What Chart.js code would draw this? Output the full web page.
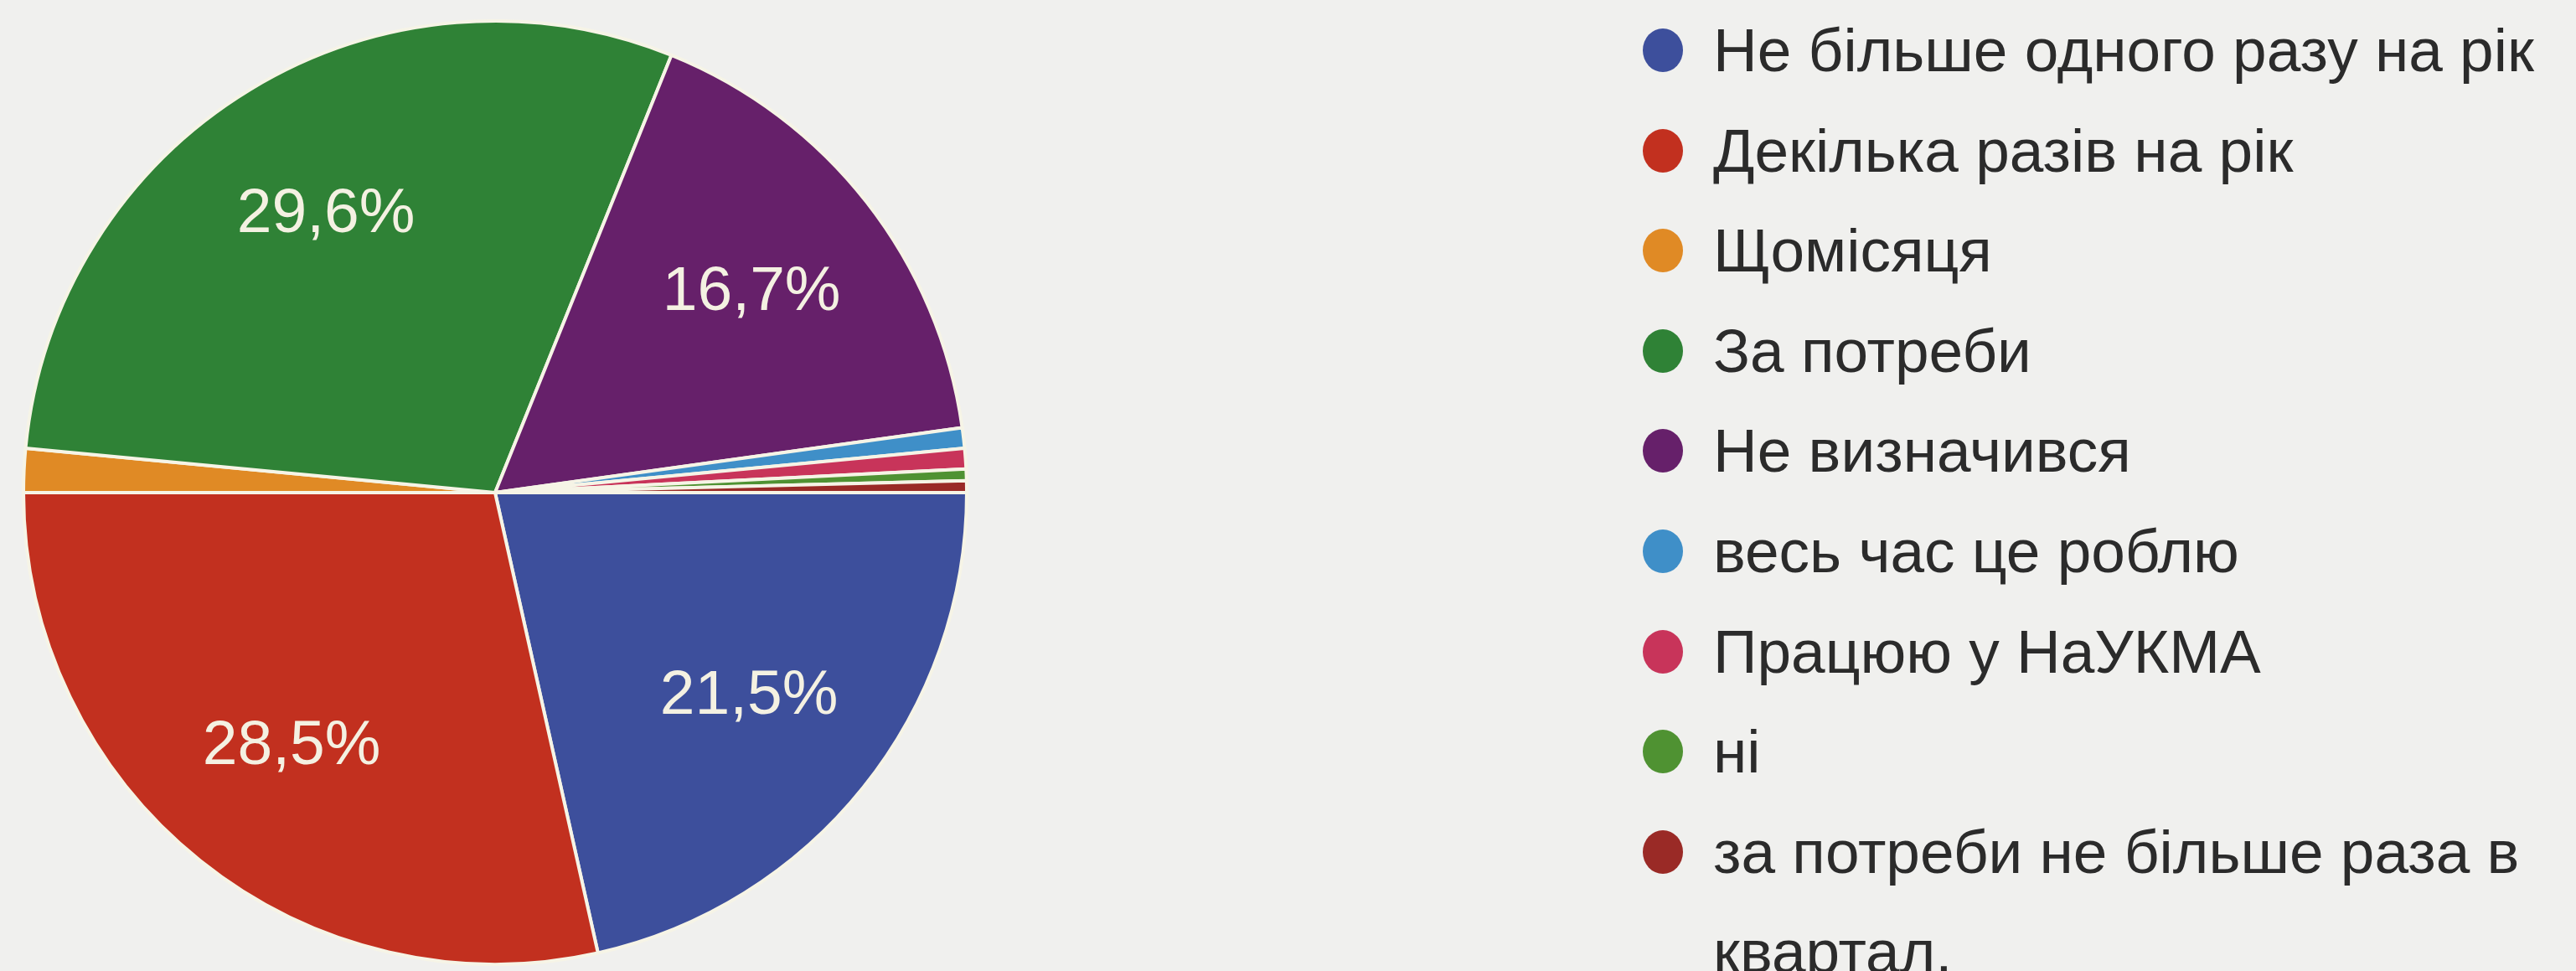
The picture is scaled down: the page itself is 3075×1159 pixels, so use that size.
<!DOCTYPE html>
<html lang="uk">
<head>
<meta charset="utf-8">
<title>Як часто</title>
<script src="https://cdn.jsdelivr.net/npm/chart.js@4.4.1/dist/chart.umd.min.js"></script>
<style>
  html, body { margin: 0; padding: 0; }
  body {
    width: 3075px; height: 1159px; overflow: hidden;
    background: #f0f0ee;
    font-family: "Liberation Sans", Arial, sans-serif;
    position: relative;
  }
  #pieBox { position: absolute; left: 26px; top: 23px; width: 1130px; height: 1130px; }
  #legend { position: absolute; left: 1960px; top: 0; margin: 0; padding: 0; list-style: none; }
  #legend li { position: relative; padding-left: 85px; font-size: 73px; line-height: 119.6px; color: #2b2b2b; white-space: nowrap; }
  #legend li span.dot {
    position: absolute; left: 1px; top: 34px; width: 48px; height: 52px; border-radius: 50%;
  }
</style>
</head>
<body>
<div id="pieBox"><canvas id="pieChart"></canvas></div>
<ul id="legend"></ul>
<script>
// Відповіді (відсотки)
const labels = [
    'Не більше одного разу на рік',
    'Декілька разів на рік',
    'Щомісяця',
    'За потреби',
    'Не визначився',
    'весь час це роблю',
    'Працюю у НаУКМА',
    'ні',
    ['за потреби не більше раза в', 'квартал.']
];
const values = [21.5, 28.5, 1.5, 29.6, 16.7, 0.7, 0.7, 0.4, 0.4];
const colors = ['#3d4f9c', '#c2301f', '#e08a25', '#2f8236', '#66206a', '#3f8fc8', '#c8345a', '#4f9232', '#9a2a26'];

// Підписи відсотків усередині великих секторів
const sliceLabels = {
    id: 'sliceLabels',
    afterDatasetsDraw(chart) {
        const ctx = chart.ctx;
        const meta = chart.getDatasetMeta(0);
        ctx.save();
        ctx.font = '75px "Liberation Sans", Arial, sans-serif';
        ctx.fillStyle = '#f4f1e2';
        ctx.textAlign = 'center';
        ctx.textBaseline = 'middle';
        meta.data.forEach((arc, i) => {
            if (values[i] < 5) return;
            const p = arc.getProps(['x', 'y', 'startAngle', 'endAngle', 'outerRadius']);
            const mid = (p.startAngle + p.endAngle) / 2;
            const r = p.outerRadius * 0.69;
            const text = values[i].toFixed(1).replace('.', ',') + '%';
            ctx.fillText(text, p.x + Math.cos(mid) * r, p.y + Math.sin(mid) * r);
        });
        ctx.restore();
    }
};

// Легенда праворуч (HTML)
const htmlLegend = {
    id: 'htmlLegend',
    afterUpdate(chart) {
        const ul = document.getElementById('legend');
        ul.innerHTML = '';
        const items = chart.options.plugins.legend.labels.generateLabels(chart);
        items.forEach(item => {
            const li = document.createElement('li');
            const dot = document.createElement('span');
            dot.className = 'dot';
            dot.style.background = item.fillStyle;
            li.appendChild(dot);
            const lines = Array.isArray(item.text) ? item.text : [item.text];
            lines.forEach((line, k) => {
                if (k > 0) li.appendChild(document.createElement('br'));
                li.appendChild(document.createTextNode(line));
            });
            ul.appendChild(li);
        });
    }
};

const pieCtx = document.getElementById('pieChart').getContext('2d');
new Chart(pieCtx, {
    type: 'pie',
    data: {
        labels: labels,
        datasets: [{
            data: values,
            backgroundColor: colors,
            borderColor: '#f6f4e6',
            borderWidth: 4
        }]
    },
    options: {
        responsive: true,
        maintainAspectRatio: false,
        animation: false,
        rotation: 90,
        layout: { padding: 0 },
        plugins: {
            legend: { display: false },
            tooltip: { enabled: false }
        }
    },
    plugins: [sliceLabels, htmlLegend]
});
</script>
</body>
</html>
